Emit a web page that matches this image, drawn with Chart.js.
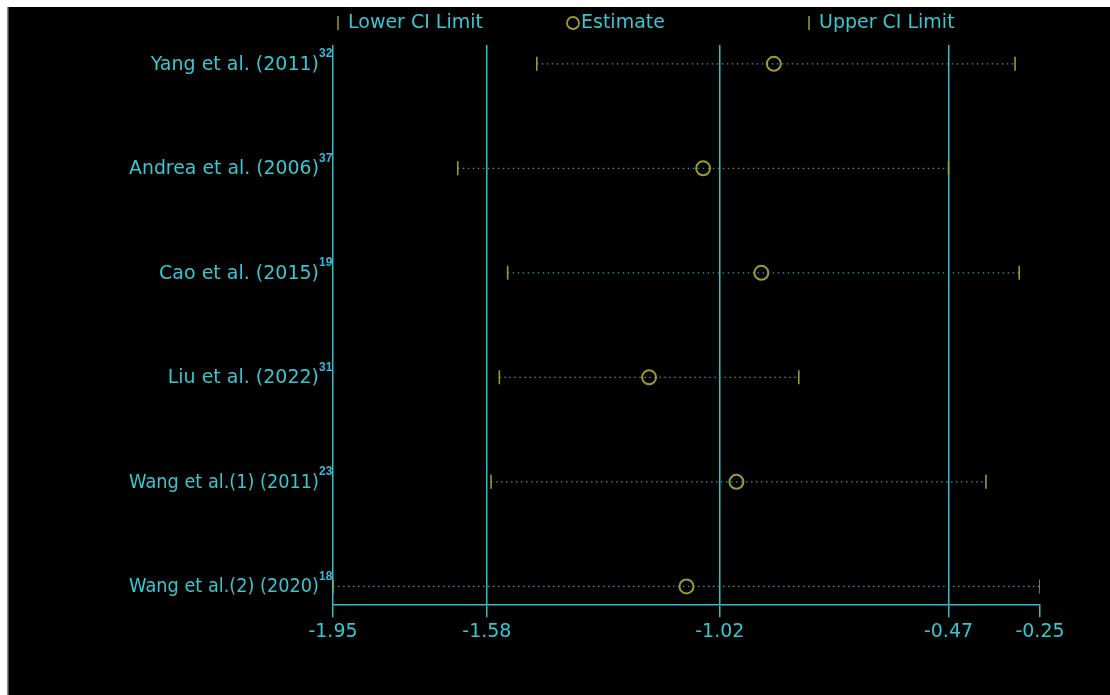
<!DOCTYPE html>
<html>
<head>
<meta charset="utf-8">
<script src="https://cdn.jsdelivr.net/npm/chart.js@4/dist/chart.umd.min.js"></script>
<style>
  html, body { margin: 0; padding: 0; background: #ffffff; }
  #wrap { position: absolute; left: 0; top: 0; width: 1110px; height: 695px; }
  canvas { display: block; }
</style>
</head>
<body>
<div id="wrap"><canvas id="c" width="1110" height="695"></canvas></div>
<script>
// ---- data ----
const studies = ["Yang et al. (2011)", "Andrea et al. (2006)", "Cao et al. (2015)", "Liu et al. (2022)", "Wang et al.(1) (2011)", "Wang et al.(2) (2020)"];
const refs = ["32", "37", "19", "31", "23", "18"];
const rowPos = [6, 5, 4, 3, 2, 1];
const lowerCI = [-1.46, -1.65, -1.53, -1.55, -1.57, -1.95];
const estimate = [-0.89, -1.06, -0.92, -1.19, -0.98, -1.10];
const upperCI = [-0.31, -0.47, -0.30, -0.83, -0.38, -0.25];
const xTicks = [-1.95, -1.58, -1.02, -0.47, -0.25];
const seriesLabels = ["Lower CI Limit", "Estimate", "Upper CI Limit"];

// ---- styles ----
const CYAN = '#2fbfc6';
const TEXT = '#38c6d0';
const OLIVE = '#9c9c2a';
const DOT = '#369a9c';
const FONT = '"DejaVu Sans", Arial, sans-serif';

const pts = (xs) => xs.map((x, i) => ({ x: x, y: rowPos[i] }));

const ciLines = studies.map((s, i) => ({
  type: 'line',
  label: '_ci' + i,
  data: [{ x: lowerCI[i], y: rowPos[i] }, { x: upperCI[i], y: rowPos[i] }],
  borderColor: DOT,
  borderWidth: 1.3,
  borderDash: [1.5, 3.5],
  pointRadius: 0,
  fill: false,
  order: 5
}));

const datasets = [
  ...ciLines,
  {
    type: 'scatter', label: seriesLabels[0], data: pts(lowerCI),
    pointStyle: 'line', rotation: 90, pointRadius: 7, borderColor: OLIVE, borderWidth: 1.6,
    backgroundColor: OLIVE, order: 1
  },
  {
    type: 'scatter', label: seriesLabels[1], data: pts(estimate),
    pointStyle: 'circle', pointRadius: 7, borderColor: OLIVE, borderWidth: 2,
    backgroundColor: 'rgba(0,0,0,0)', order: 1
  },
  {
    type: 'scatter', label: seriesLabels[2], data: pts(upperCI),
    pointStyle: 'line', rotation: 90, pointRadius: 7, borderColor: OLIVE, borderWidth: 1.6,
    backgroundColor: OLIVE, order: 1
  }
];

// background: white margin strip + black panel
const bgPlugin = {
  id: 'bg',
  beforeDraw(chart) {
    const ctx = chart.ctx;
    ctx.save();
    ctx.fillStyle = '#ffffff';
    ctx.fillRect(0, 0, chart.width, chart.height);
    ctx.fillStyle = '#000000';
    ctx.fillRect(8, 7, chart.width - 8, chart.height - 7);
    ctx.fillStyle = '#8a8a8a';
    ctx.fillRect(7, 7, 1.5, chart.height - 7);
    ctx.restore();
  }
};

// y labels with superscript reference numbers
const yLabelPlugin = {
  id: 'ylabels',
  afterDraw(chart) {
    const ctx = chart.ctx;
    const y = chart.scales.y;
    const left = chart.chartArea.left;
    ctx.save();
    studies.forEach((s, i) => {
      const py = y.getPixelForValue(rowPos[i]);
      ctx.font = '19px ' + FONT;
      ctx.fillStyle = TEXT;
      ctx.textAlign = 'right';
      ctx.textBaseline = 'middle';
      ctx.fillText(s, left - 14, py + 1, 190);
      ctx.font = 'bold 12px "Liberation Sans", Arial, sans-serif';
      ctx.textAlign = 'left';
      ctx.fillStyle = '#3ab8dc';
      ctx.fillText(refs[i], left - 14, py - 10);
    });
    ctx.restore();
  }
};

// legend drawn at fixed positions
const legendPlugin = {
  id: 'customLegend',
  afterDraw(chart) {
    const ctx = chart.ctx;
    const xs = [338, 573, 809];
    const ty = 23;
    ctx.save();
    ctx.font = '19px ' + FONT;
    ctx.textBaseline = 'middle';
    ctx.textAlign = 'left';
    seriesLabels.forEach((lab, i) => {
      ctx.strokeStyle = OLIVE;
      if (i === 1) {
        ctx.lineWidth = 1.8;
        ctx.beginPath();
        ctx.arc(xs[i], ty, 6, 0, Math.PI * 2);
        ctx.stroke();
        ctx.fillStyle = TEXT;
        ctx.fillText(lab, xs[i] + 8, ty);
      } else {
        ctx.lineWidth = 1.5;
        ctx.beginPath();
        ctx.moveTo(xs[i], ty - 7);
        ctx.lineTo(xs[i], ty + 7);
        ctx.stroke();
        ctx.fillStyle = TEXT;
        ctx.fillText(lab, xs[i] + 10, ty);
      }
    });
    ctx.restore();
  }
};

new Chart(document.getElementById('c'), {
  data: { datasets },
  options: {
    responsive: false,
    animation: false,
    layout: { padding: { left: 333, right: 70, top: 45, bottom: 49 } },
    plugins: {
      legend: { display: false },
      tooltip: { enabled: false }
    },
    scales: {
      x: {
        type: 'linear',
        min: -1.95,
        max: -0.25,
        afterBuildTicks(scale) { scale.ticks = xTicks.map(v => ({ value: v })); },
        ticks: {
          color: TEXT,
          font: { family: FONT, size: 19 },
          padding: 3,
          autoSkip: false,
          maxRotation: 0,
          callback: (v) => v.toFixed(2)
        },
        grid: {
          color: (c) => (c.tick && c.tick.value === -0.25) ? 'rgba(0,0,0,0)' : CYAN,
          tickColor: CYAN,
          tickLength: 12,
          lineWidth: 1.5,
          drawTicks: true
        },
        border: { display: true, color: CYAN, width: 1.5 }
      },
      y: {
        type: 'linear',
        min: 0.82,
        max: 6.18,
        afterBuildTicks(scale) { scale.ticks = rowPos.map(v => ({ value: v })); },
        ticks: { display: false },
        grid: { display: false, drawTicks: false },
        border: { display: false }
      }
    }
  },
  plugins: [bgPlugin, yLabelPlugin, legendPlugin]
});
</script>
</body>
</html>
